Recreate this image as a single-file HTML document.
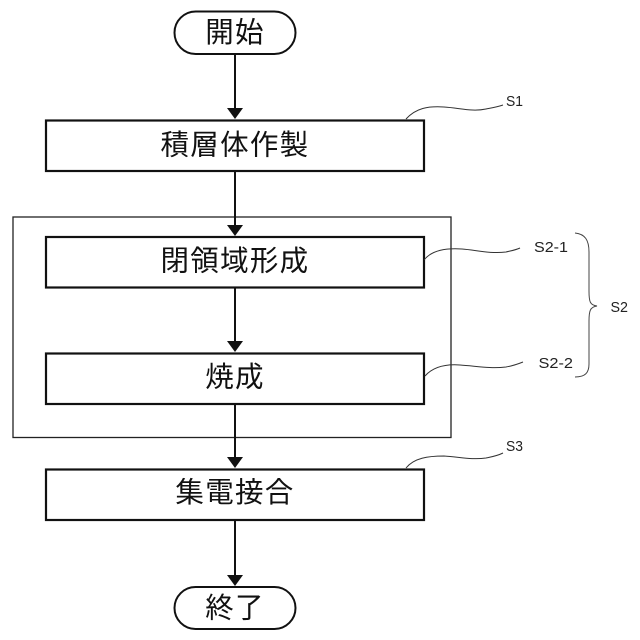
<!DOCTYPE html>
<html><head><meta charset="utf-8"><style>
html,body{margin:0;padding:0;background:#fff}
svg{display:block}
text{font-family:"Liberation Sans","Noto Sans CJK JP",sans-serif;fill:#111}
.j{font-size:28.500px;text-anchor:middle;letter-spacing:1.300px}
.s{font-size:14.500px;fill:#222}
</style></head><body>
<svg width="640" height="640" viewBox="0 0 640 640" xmlns="http://www.w3.org/2000/svg">
<rect width="640" height="640" fill="#fff"/>
<g fill="none" stroke="#111">
<rect x="13" y="217" width="438" height="220.500" stroke-width="1.300" stroke="#222"/>
<rect x="174.500" y="11.500" width="121" height="42.500" rx="21.200" stroke-width="2"/>
<rect x="174.500" y="587" width="121" height="42" rx="21" stroke-width="2"/>
<rect x="46" y="120.500" width="378" height="50.500" stroke-width="2.200"/>
<rect x="46" y="237" width="378" height="50.500" stroke-width="2.200"/>
<rect x="46" y="353.500" width="378" height="50.500" stroke-width="2.200"/>
<rect x="46" y="469.500" width="378" height="50.500" stroke-width="2.200"/>
<path d="M235 54V108M235 171V225M235 288V341M235 404V457M235 520V575" stroke-width="2"/>
<g stroke-width="1" stroke="#333">
<path d="M406 119C416 108 428 106 444 107C460 108 472 112 486 109C491 108 497 107 503 105"/>
<path d="M424 260C432 250 446 248 462 249C476 250 490 254 506 252C510 251 516 250 520 248"/>
<path d="M425 376C433 367 446 364 460 365C476 366 490 369 506 367C512 366 518 364 523 362"/>
<path d="M406 468C414 458 428 456 444 456C460 457 472 460 486 458C491 457 497 456 503 453"/>
<path d="M575 233C585 234 589 240 589 252V291C589 302 590 305 597 306C590 307 589 311 589 321V364C589 373 585 377 575 377" stroke="#444"/>
</g>
</g>
<g fill="#111">
<path d="M227 108H243L235 119Z"/>
<path d="M227 225H243L235 236Z"/>
<path d="M227 341H243L235 352Z"/>
<path d="M227 457H243L235 468Z"/>
<path d="M227 575H243L235 586Z"/>
</g>
<text class="j" x="235" y="42">開始</text>
<text class="j" x="235" y="154.500">積層体作製</text>
<text class="j" x="235" y="270.500">閉領域形成</text>
<text class="j" x="235" y="386.500">焼成</text>
<text class="j" x="235" y="502">集電接合</text>
<text class="j" x="235" y="617.500">終了</text>
<text class="s" x="506" y="106" textLength="17" lengthAdjust="spacingAndGlyphs">S1</text>
<text class="s" x="534" y="252" textLength="34" lengthAdjust="spacingAndGlyphs">S2-1</text>
<text class="s" x="538.500" y="368" textLength="34.500" lengthAdjust="spacingAndGlyphs">S2-2</text>
<text class="s" x="610.500" y="312" textLength="17.500" lengthAdjust="spacingAndGlyphs">S2</text>
<text class="s" x="506" y="451" textLength="17" lengthAdjust="spacingAndGlyphs">S3</text>
</svg>
</body></html>
